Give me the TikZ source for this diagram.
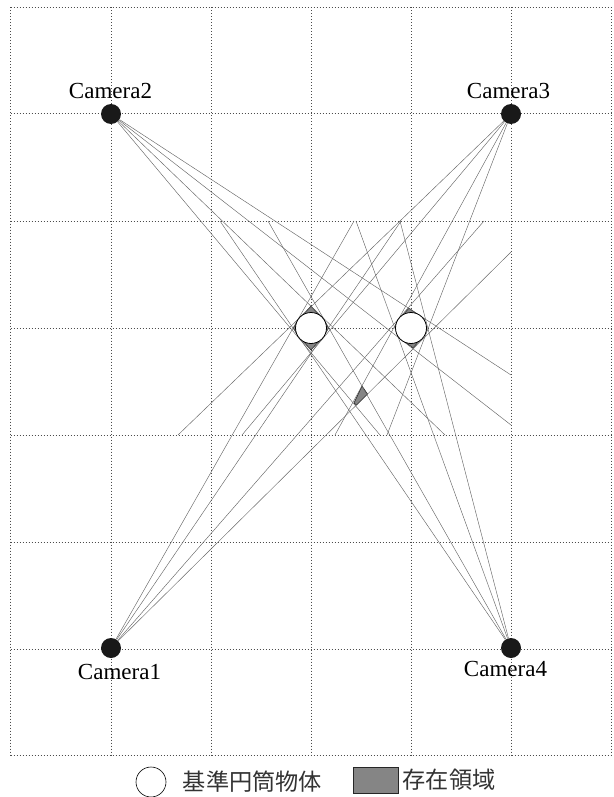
\documentclass[tikz,border=0pt]{standalone}
\usepackage{fontspec}
\setmainfont{Liberation Serif}
\newfontfamily\jpfont{Noto Sans CJK JP}
\begin{document}
\begin{tikzpicture}[x=1pt, y=-1pt, thin,
  gridline/.style = {line width=1pt, dotted, black!70},
  ray/.style = {line width=0.45pt, black!60},
  hull/.style = {draw=black!85, line width=0.6pt, fill=black!48},
  cam/.style = {draw=none, circle, fill=black!90, minimum size=20pt, inner sep=0pt},
  base/.style = {draw, circle, fill=white, minimum size=31pt, inner sep=0pt, line width=0.8pt},
  lab/.style = {font=\fontsize{23}{23}\selectfont, inner sep=0pt},
  jp/.style = {font=\jpfont\fontsize{23.2}{24}\selectfont, inner sep=0pt, text=black!80}]
\useasboundingbox (0,0) rectangle (613,797);
\draw[gridline] (10.5,7.5) -- (611,7.5);
\draw[gridline] (10.5,114) -- (611,114);
\draw[gridline] (10.5,221) -- (611,221);
\draw[gridline] (10.5,328) -- (611,328);
\draw[gridline] (10.5,435) -- (611,435);
\draw[gridline] (10.5,542) -- (611,542);
\draw[gridline] (10.5,649) -- (611,649);
\draw[gridline] (10.5,755) -- (611,755);
\draw[gridline] (10.5,7.5) -- (10.5,755);
\draw[gridline] (111,7.5) -- (111,755);
\draw[gridline] (211,7.5) -- (211,755);
\draw[gridline] (311,7.5) -- (311,755);
\draw[gridline] (411,7.5) -- (411,755);
\draw[gridline] (511,7.5) -- (511,755);
\draw[gridline] (611,7.5) -- (611,755);
\draw[hull] (311,306.1) -- (323,319) -- (328.7,328) -- (323,337) -- (311,349.9) -- (299,337) -- (293.3,328) -- (299,319) -- cycle;
\draw[hull] (409,308.2) -- (423.8,318.7) -- (427,329) -- (423.4,336.7) -- (413,347.8) -- (398.2,337.3) -- (395,327) -- (398.6,319.3) -- cycle;
\draw[hull] (362,386) -- (367.5,394) -- (356.5,405) -- (354,403) -- cycle;
\node[cam] (cam1) at (111,648) {};
\node[cam] (cam2) at (111,114) {};
\node[cam] (cam3) at (511,114) {};
\node[cam] (cam4) at (511,648) {};
\node[lab] (name1) at (119.5,672) {Camera1};
\node[lab] (name2) at (110.5,91) {Camera2};
\node[lab] (name3) at (508.5,91) {Camera3};
\node[lab] (name4) at (505.5,669) {Camera4};
\coordinate (e1a) at (354,221);
\coordinate (e1b) at (401,221);
\coordinate (e1c) at (484,221);
\coordinate (e1d) at (511,252);
\coordinate (e2a) at (380,435);
\coordinate (e2b) at (445,435);
\coordinate (e2c) at (511,375);
\coordinate (e2d) at (511,425);
\coordinate (e3a) at (178,435);
\coordinate (e3b) at (242,435);
\coordinate (e3c) at (335,435);
\coordinate (e3d) at (387,435);
\coordinate (e4a) at (220,221);
\coordinate (e4b) at (268,221);
\coordinate (e4c) at (356,221);
\coordinate (e4d) at (400,221);
\draw[ray] (cam1) -- (e1a);
\draw[ray] (cam1) -- (e1b);
\draw[ray] (cam1) -- (e1c);
\draw[ray] (cam1) -- (e1d);
\draw[ray] (cam2) -- (e2a);
\draw[ray] (cam2) -- (e2b);
\draw[ray] (cam2) -- (e2c);
\draw[ray] (cam2) -- (e2d);
\draw[ray] (cam3) -- (e3a);
\draw[ray] (cam3) -- (e3b);
\draw[ray] (cam3) -- (e3c);
\draw[ray] (cam3) -- (e3d);
\draw[ray] (cam4) -- (e4a);
\draw[ray] (cam4) -- (e4b);
\draw[ray] (cam4) -- (e4c);
\draw[ray] (cam4) -- (e4d);
\node[base] (obj1) at (311,328) {};
\node[base] (obj2) at (411,328) {};
\node[draw, circle, minimum size=30pt, inner sep=0pt, line width=0.6pt] (key1) at (151,782) {};
\node[jp] (text1) at (252.5,782) {基準円筒物体};
\node[hull, minimum width=45pt, minimum height=26pt, inner sep=0pt] (key2) at (375.5,780) {};
\node[jp] (text2) at (449,780) {存在領域};
\end{tikzpicture}
\end{document}
